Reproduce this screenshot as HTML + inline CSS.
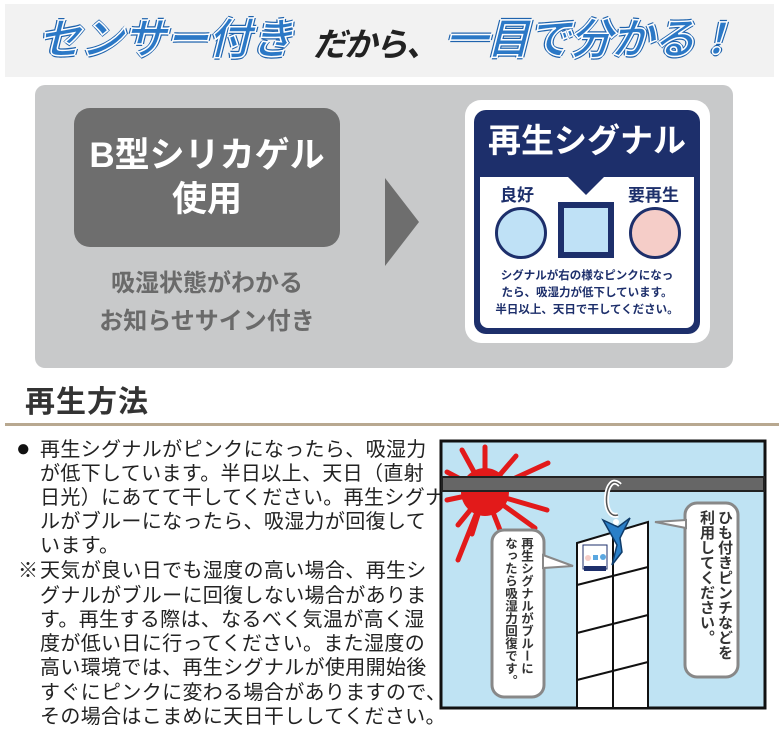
<!DOCTYPE html>
<html><head><meta charset="utf-8"><style>
body{margin:0;width:779px;height:756px;background:#fff;position:relative;overflow:hidden;font-family:"Liberation Sans","Noto Sans CJK JP",sans-serif}
.a{position:absolute}
.t{position:absolute;left:40px;font-size:20px;letter-spacing:0.35px;color:#222;white-space:nowrap;line-height:24px}
.h{position:absolute;font-size:43px;font-weight:bold;font-style:italic;color:#2b78c6;white-space:nowrap;line-height:60px;-webkit-text-stroke:1.5px #fff;text-shadow:2px 0 #1f63ad,-2px 0 #1f63ad,0 2px #1f63ad,0 -2px #1f63ad}
</style></head><body>
<div class="a" style="left:5px;top:4px;width:769px;height:73px;background:#f2f2f2"></div>
<div class="h" style="left:38px;top:10px;letter-spacing:-0.5px">センサー付き</div>
<div class="a" style="left:313px;top:20px;font-size:33px;font-weight:bold;font-style:italic;color:#222;white-space:nowrap;line-height:50px;letter-spacing:-2px">だから、</div>
<div class="h" style="left:445px;top:10px;letter-spacing:-1.5px">一目で分かる！</div>

<div class="a" style="left:35px;top:85px;width:698px;height:283px;background:#c8c9ca;border-radius:10px"></div>
<div class="a" style="left:74px;top:108px;width:266px;height:139px;background:#6e6e6e;border-radius:16px;color:#fff;font-size:35px;font-weight:bold;text-align:center;line-height:44px;padding-top:26px;box-sizing:border-box">B型シリカゲル<br>使用</div>
<div class="a" style="left:385px;top:178px;width:0;height:0;border-top:44px solid transparent;border-bottom:44px solid transparent;border-left:34px solid #6e6e6e"></div>
<div class="a" style="left:74px;top:265px;width:266px;text-align:center;font-size:24px;font-weight:bold;color:#6a6a6a;line-height:38px">吸湿状態がわかる<br>お知らせサイン付き</div>

<div class="a" style="left:465px;top:100px;width:245px;height:243px;background:#fff;border-radius:16px"></div>
<div class="a" style="left:474px;top:110px;width:226px;height:224px;background:#1d2f6b;border-radius:12px"></div>
<div class="a" style="left:480px;top:177px;width:214px;height:151px;background:#fff;border-radius:0 0 8px 8px"></div>
<div class="a" style="left:474px;top:116px;width:226px;text-align:center;color:#fff;font-size:33px;font-weight:bold;line-height:50px">再生シグナル</div>
<div class="a" style="left:568px;top:177px;width:0;height:0;border-left:18px solid transparent;border-right:18px solid transparent;border-top:18px solid #1d2f6b"></div>
<div class="a" style="left:500px;top:181px;font-size:17px;font-weight:bold;color:#1d2f6b">良好</div>
<div class="a" style="left:628px;top:181px;font-size:17px;font-weight:bold;color:#1d2f6b">要再生</div>
<div class="a" style="left:495px;top:207px;width:46px;height:46px;border:3px solid #1d2f6b;border-radius:50%;background:#bfe1f6"></div>
<div class="a" style="left:558px;top:202px;width:44px;height:44px;border:6px solid #1d2f6b;background:#bfe1f6"></div>
<div class="a" style="left:629px;top:207px;width:46px;height:46px;border:3px solid #1d2f6b;border-radius:50%;background:#f5cdc8"></div>
<div class="a" style="left:480px;top:268px;width:214px;text-align:center;font-size:11.5px;font-weight:bold;color:#1d2f6b;line-height:17px;white-space:nowrap">シグナルが右の様なピンクになっ<br>たら、吸湿力が低下しています。<br>半日以上、天日で干してください。</div>

<div class="a" style="left:25px;top:383px;font-size:30px;font-weight:bold;color:#333;letter-spacing:1px;line-height:40px">再生方法</div>
<div class="a" style="left:5px;top:423px;width:774px;height:3px;background:#b8a890"></div>

<div class="a" style="left:16px;top:437px;font-size:24px;color:#111;line-height:24px">●</div>
<div class="t" style="top:438px">再生シグナルがピンクになったら、吸湿力</div>
<div class="t" style="top:462px">が低下しています。半日以上、天日（直射</div>
<div class="t" style="top:486px">日光）にあてて干してください。再生シグナ</div>
<div class="t" style="top:510px">ルがブルーになったら、吸湿力が回復して</div>
<div class="t" style="top:534px">います。</div>
<div class="t" style="top:559px;left:18px">※</div>
<div class="t" style="top:559px">天気が良い日でも湿度の高い場合、再生シ</div>
<div class="t" style="top:584px">グナルがブルーに回復しない場合がありま</div>
<div class="t" style="top:608px">す。再生する際は、なるべく気温が高く湿</div>
<div class="t" style="top:632px">度が低い日に行ってください。また湿度の</div>
<div class="t" style="top:656px">高い環境では、再生シグナルが使用開始後</div>
<div class="t" style="top:681px">すぐにピンクに変わる場合がありますので、</div>
<div class="t" style="top:705px">その場合はこまめに天日干ししてください。</div>

<svg class="a" style="left:0;top:0" width="779" height="756">
<rect x="441" y="441" width="324" height="267" fill="#bfe3f3" stroke="#111" stroke-width="3"/>
<g stroke="#e21a1a" stroke-width="5" stroke-linecap="round">
<line x1="485" y1="492" x2="485" y2="447"/><line x1="485" y1="492" x2="462" y2="450"/><line x1="485" y1="492" x2="516" y2="456"/>
<line x1="485" y1="492" x2="548" y2="463"/><line x1="485" y1="492" x2="547" y2="510"/><line x1="485" y1="492" x2="535" y2="528"/>
<line x1="485" y1="492" x2="500" y2="530"/><line x1="485" y1="492" x2="472" y2="534"/><line x1="485" y1="492" x2="458" y2="525"/>
<line x1="485" y1="492" x2="447" y2="500"/><line x1="485" y1="492" x2="447" y2="472"/><line x1="485" y1="492" x2="458" y2="560"/>
</g>
<circle cx="485" cy="492" r="24" fill="#e21a1a"/>
<rect x="442" y="477" width="322" height="14" fill="#666" stroke="#222" stroke-width="2"/>
<path d="M620 485 C 605 470, 600 520, 618 515" fill="none" stroke="#fff" stroke-width="5"/>
<path d="M620 485 C 605 470, 600 520, 618 515" fill="none" stroke="#555" stroke-width="1.5"/>
<polygon points="577,543 648,522 648,708 577,708" fill="#fff" stroke="#111" stroke-width="2"/>
<g stroke="#111" stroke-width="2"><line x1="613" y1="533" x2="613" y2="708"/><line x1="577" y1="585" x2="648" y2="567"/><line x1="577" y1="633" x2="648" y2="615"/><line x1="577" y1="680" x2="648" y2="662"/></g>
<rect x="583" y="545" width="24" height="24" fill="#fff" stroke="#1d2f6b"/><rect x="584" y="566" width="22" height="5" fill="#1d2f6b"/>
<circle cx="588" cy="558" r="3" fill="#f5cdc8"/><rect x="593" y="555" width="5" height="5" fill="#5aa7e0"/><circle cx="603" cy="557" r="3" fill="#5aa7e0"/>
<path d="M603 520 L618 527 L630 518 L620 538 L622 552 L612 565 L617 545 Z" fill="#2a7fc8" stroke="#0f3c6a" stroke-width="1.5"/>
<circle cx="616" cy="522" r="3" fill="#fff"/>
<rect x="685" y="503" width="53" height="174" rx="12" fill="#fff" stroke="#888" stroke-width="3"/>
<polygon points="686,520 655,522 686,528" fill="#fff" stroke="#888" stroke-width="2"/>
<rect x="492" y="530" width="52" height="167" rx="12" fill="#fff" stroke="#888" stroke-width="3"/>
<polygon points="543,555 573,566 543,568" fill="#fff" stroke="#888" stroke-width="2"/>
</svg>
<div class="a" style="left:697px;top:510px;writing-mode:vertical-rl;font-size:15px;font-weight:bold;color:#333;line-height:18px;height:165px">ひも付きピンチなどを<br>利用してください。</div>
<div class="a" style="left:502px;top:537px;writing-mode:vertical-rl;font-size:12.5px;font-weight:bold;color:#333;line-height:16px;height:160px">再生シグナルがブルーに<br>なったら吸湿力回復です。</div>
</body></html>
